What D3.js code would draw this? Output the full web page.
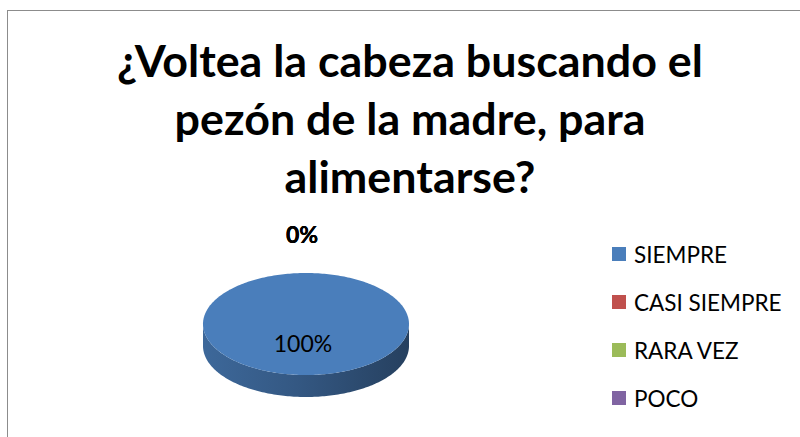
<!DOCTYPE html>
<html>
<head>
<meta charset="utf-8">
<script src="https://cdn.jsdelivr.net/npm/d3@7"></script>
<style>
  body { margin: 0; background: #fff; }
  svg { display: block; }
</style>
</head>
<body>
<svg id="chart"></svg>
<script>
const categories = ["SIEMPRE", "CASI SIEMPRE", "RARA VEZ", "POCO"];
const values = [100, 0, 0, 0];
const colors = ["#4a7ebb", "#c0504d", "#9bbb59", "#8064a2"];
const titleLines = ["¿Voltea la cabeza buscando el", "pezón de la madre, para", "alimentarse?"];

const width = 800, height = 437;
const font = "Lato, 'Open Sans', sans-serif";

const svg = d3.select("#chart").attr("width", width).attr("height", height);

// chart area border (runs off right and bottom edge)
svg.append("rect")
    .attr("x", 7.5).attr("y", 10.5)
    .attr("width", 820).attr("height", 460)
    .attr("fill", "#fff").attr("stroke", "#8c8c8c").attr("stroke-width", 1);

// title
svg.append("g").selectAll("text")
    .data(titleLines)
    .enter()
    .append("text")
    .attr("x", 410)
    .attr("y", (d, i) => 77 + i * 58)
    .attr("text-anchor", "middle")
    .style("font-family", font)
    .style("font-weight", "bold")
    .style("font-size", "44.8px")
    .attr("fill", "#000")
    .text(d => d);

// 3d pie
const cx = 306, cy = 324, rx = 103, ry = 51, depth = 22;
const pie = d3.pie().sort(null).value(d => d)(values);

const pt = (a, dy = 0) => [cx + rx * Math.sin(a), cy - ry * Math.cos(a) + dy];

const defs = svg.append("defs");
colors.forEach((c, i) => {
    const g = defs.append("linearGradient")
        .attr("id", "side" + i)
        .attr("gradientUnits", "userSpaceOnUse")
        .attr("x1", cx - rx).attr("x2", cx + rx)
        .attr("y1", 0).attr("y2", 0);
    const base = d3.color(c);
    g.append("stop").attr("offset", "0%").attr("stop-color", base.darker(0.55));
    g.append("stop").attr("offset", "45%").attr("stop-color", base.darker(1.0));
    g.append("stop").attr("offset", "100%").attr("stop-color", base.darker(1.9));
});

function arcPoints(a0, a1, dy) {
    const n = Math.max(2, Math.ceil((a1 - a0) / 0.02));
    return d3.range(n + 1).map(k => pt(a0 + (a1 - a0) * k / n, dy));
}

const pieG = svg.append("g");

// side walls (front half only)
pie.forEach((s, i) => {
    if (s.endAngle - s.startAngle <= 0) return;
    const a0 = Math.max(s.startAngle, Math.PI / 2);
    const a1 = Math.min(s.endAngle, Math.PI * 3 / 2);
    if (a1 <= a0) return;
    const top = arcPoints(a0, a1, 0);
    const bottom = arcPoints(a0, a1, depth).reverse();
    pieG.append("path")
        .attr("d", d3.line()(top.concat(bottom)) + "Z")
        .attr("fill", `url(#side${i})`);
});

// top faces
pie.forEach((s, i) => {
    if (s.endAngle - s.startAngle <= 0) return;
    const full = s.endAngle - s.startAngle >= Math.PI * 2 - 1e-6;
    const p = arcPoints(s.startAngle, s.endAngle, 0);
    const d = full ? d3.line()(p) + "Z" : "M" + cx + "," + cy + "L" + d3.line()(p).slice(1) + "Z";
    pieG.append("path").attr("d", d).attr("fill", colors[i]);
});

// data labels
const fmt = v => Math.round(v / d3.sum(values) * 100) + "%";
pie.forEach((s, i) => {
    const span = s.endAngle - s.startAngle;
    let x, y, bold = false;
    if (span >= Math.PI * 2 - 1e-6) {
        x = cx - 3; y = cy + 19;
    } else if (span <= 0) {
        const mid = s.startAngle;
        x = cx + (rx + 38) * Math.sin(mid) - 4;
        y = cy - (ry + 38) * Math.cos(mid) - 1;
        bold = true;
    } else {
        const mid = (s.startAngle + s.endAngle) / 2;
        [x, y] = [cx + rx * 0.6 * Math.sin(mid), cy - ry * 0.6 * Math.cos(mid)];
    }
    svg.append("text")
        .attr("x", x).attr("y", y)
        .attr("text-anchor", "middle")
        .attr("dominant-baseline", "central")
        .style("font-family", font)
        .style("font-size", bold ? "23px" : "23px")
        .style("font-weight", bold ? "bold" : "normal")
        .attr("fill", "#000")
        .text(fmt(values[i]));
});

// legend
const legendY = d3.scalePoint().domain(categories).range([254, 398]);
const legend = svg.append("g").selectAll("g")
    .data(categories)
    .enter()
    .append("g")
    .attr("transform", d => `translate(612,${legendY(d)})`);
legend.append("rect")
    .attr("x", 0).attr("y", -7)
    .attr("width", 14).attr("height", 14)
    .attr("fill", (d, i) => colors[i]);
legend.append("text")
    .attr("x", 22).attr("y", 0)
    .attr("dominant-baseline", "central")
    .style("font-family", font)
    .style("font-size", "22.5px")
    .attr("fill", "#000")
    .text(d => d);
</script>
</body>
</html>
